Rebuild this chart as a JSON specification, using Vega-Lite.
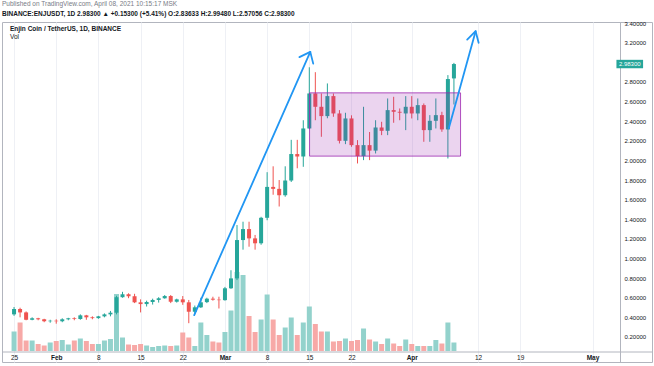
{
  "$schema": "https://vega.github.io/schema/vega-lite/v6.json",
  "width": 650,
  "height": 340,
  "autosize": {"type": "none"},
  "padding": {"left": 2, "top": 22, "right": 2, "bottom": 4},
  "background": "white",
  "config": {
    "view": {"stroke": "#b2b5be", "strokeWidth": 1},
    "font": "Liberation Sans",
    "axis": {"labelOverlap": false, "labelFlush": false},
    "axisY": {"offset": -32, "title": null, "format": ".5f", "tickSize": 0, "labelPadding": 4, "labelFontSize": 6, "labelOverlap": false, "labelBound": false, "labelColor": "#131722", "domainColor": "#b2b5be", "gridColor": "#eef0f5"}
  },
  "title": {
    "text": "Published on TradingView.com, April 08, 2021 10:15:17 MSK",
    "subtitle": "BINANCE:ENJUSDT, 1D 2.98300 ▲ +0.15300 (+5.41%) O:2.83633 H:2.99480 L:2.57056 C:2.98300",
    "anchor": "start", "frame": "group",
    "fontSize": 6.5, "fontWeight": "normal", "color": "#787b86",
    "subtitleFontSize": 6.5, "subtitleColor": "#131722", "subtitleFontWeight": "bold",
    "offset": 3, "subtitlePadding": 3
  },
  "datasets": {
    "candles": [
      {"date": "2021-01-25", "open": 0.43, "high": 0.505, "low": 0.415, "close": 0.485, "volume": 39},
      {"date": "2021-01-26", "open": 0.485, "high": 0.498, "low": 0.40, "close": 0.45, "volume": 57},
      {"date": "2021-01-27", "open": 0.45, "high": 0.46, "low": 0.37, "close": 0.375, "volume": 21},
      {"date": "2021-01-28", "open": 0.375, "high": 0.40, "low": 0.37, "close": 0.39, "volume": 21},
      {"date": "2021-01-29", "open": 0.39, "high": 0.395, "low": 0.37, "close": 0.38, "volume": 14},
      {"date": "2021-01-30", "open": 0.38, "high": 0.385, "low": 0.35, "close": 0.36, "volume": 11},
      {"date": "2021-01-31", "open": 0.36, "high": 0.375, "low": 0.345, "close": 0.365, "volume": 17},
      {"date": "2021-02-01", "open": 0.365, "high": 0.38, "low": 0.335, "close": 0.36, "volume": 20},
      {"date": "2021-02-02", "open": 0.36, "high": 0.39, "low": 0.35, "close": 0.38, "volume": 22},
      {"date": "2021-02-03", "open": 0.38, "high": 0.395, "low": 0.37, "close": 0.39, "volume": 13},
      {"date": "2021-02-04", "open": 0.39, "high": 0.40, "low": 0.37, "close": 0.383, "volume": 21},
      {"date": "2021-02-05", "open": 0.383, "high": 0.43, "low": 0.375, "close": 0.42, "volume": 25},
      {"date": "2021-02-06", "open": 0.42, "high": 0.425, "low": 0.375, "close": 0.40, "volume": 20},
      {"date": "2021-02-07", "open": 0.40, "high": 0.41, "low": 0.38, "close": 0.392, "volume": 14},
      {"date": "2021-02-08", "open": 0.392, "high": 0.415, "low": 0.385, "close": 0.41, "volume": 14},
      {"date": "2021-02-09", "open": 0.41, "high": 0.44, "low": 0.40, "close": 0.43, "volume": 21},
      {"date": "2021-02-10", "open": 0.43, "high": 0.465, "low": 0.41, "close": 0.447, "volume": 24},
      {"date": "2021-02-11", "open": 0.447, "high": 0.62, "low": 0.43, "close": 0.605, "volume": 114},
      {"date": "2021-02-12", "open": 0.605, "high": 0.66, "low": 0.60, "close": 0.635, "volume": 27},
      {"date": "2021-02-13", "open": 0.635, "high": 0.645, "low": 0.595, "close": 0.615, "volume": 13},
      {"date": "2021-02-14", "open": 0.615, "high": 0.64, "low": 0.545, "close": 0.553, "volume": 12},
      {"date": "2021-02-15", "open": 0.553, "high": 0.583, "low": 0.45, "close": 0.535, "volume": 14},
      {"date": "2021-02-16", "open": 0.535, "high": 0.57, "low": 0.51, "close": 0.556, "volume": 11},
      {"date": "2021-02-17", "open": 0.556, "high": 0.59, "low": 0.53, "close": 0.577, "volume": 8},
      {"date": "2021-02-18", "open": 0.577, "high": 0.605, "low": 0.55, "close": 0.594, "volume": 10},
      {"date": "2021-02-19", "open": 0.594, "high": 0.627, "low": 0.59, "close": 0.617, "volume": 11},
      {"date": "2021-02-20", "open": 0.617, "high": 0.627, "low": 0.545, "close": 0.559, "volume": 10},
      {"date": "2021-02-21", "open": 0.559, "high": 0.59, "low": 0.55, "close": 0.583, "volume": 11},
      {"date": "2021-02-22", "open": 0.583, "high": 0.617, "low": 0.527, "close": 0.553, "volume": 37},
      {"date": "2021-02-23", "open": 0.553, "high": 0.577, "low": 0.34, "close": 0.457, "volume": 27},
      {"date": "2021-02-24", "open": 0.457, "high": 0.52, "low": 0.43, "close": 0.502, "volume": 10},
      {"date": "2021-02-25", "open": 0.502, "high": 0.60, "low": 0.495, "close": 0.553, "volume": 57},
      {"date": "2021-02-26", "open": 0.555, "high": 0.60, "low": 0.545, "close": 0.59, "volume": 32},
      {"date": "2021-02-27", "open": 0.59, "high": 0.61, "low": 0.57, "close": 0.58, "volume": 19},
      {"date": "2021-02-28", "open": 0.58, "high": 0.61, "low": 0.49, "close": 0.575, "volume": 17},
      {"date": "2021-03-01", "open": 0.575, "high": 0.71, "low": 0.57, "close": 0.696, "volume": 38},
      {"date": "2021-03-02", "open": 0.696, "high": 0.88, "low": 0.69, "close": 0.797, "volume": 81},
      {"date": "2021-03-03", "open": 0.797, "high": 1.341, "low": 0.78, "close": 1.188, "volume": 158},
      {"date": "2021-03-04", "open": 1.188, "high": 1.375, "low": 1.09, "close": 1.30, "volume": 152},
      {"date": "2021-03-05", "open": 1.30, "high": 1.375, "low": 1.12, "close": 1.205, "volume": 70},
      {"date": "2021-03-06", "open": 1.205, "high": 1.24, "low": 1.09, "close": 1.155, "volume": 38},
      {"date": "2021-03-07", "open": 1.155, "high": 1.425, "low": 1.14, "close": 1.415, "volume": 63},
      {"date": "2021-03-08", "open": 1.415, "high": 1.88, "low": 1.39, "close": 1.73, "volume": 113},
      {"date": "2021-03-09", "open": 1.73, "high": 1.94, "low": 1.65, "close": 1.71, "volume": 63},
      {"date": "2021-03-10", "open": 1.71, "high": 1.80, "low": 1.53, "close": 1.645, "volume": 32},
      {"date": "2021-03-11", "open": 1.645, "high": 1.94, "low": 1.63, "close": 1.795, "volume": 47},
      {"date": "2021-03-12", "open": 1.795, "high": 2.21, "low": 1.78, "close": 2.065, "volume": 67},
      {"date": "2021-03-13", "open": 2.065, "high": 2.21, "low": 1.92, "close": 2.04, "volume": 32},
      {"date": "2021-03-14", "open": 2.04, "high": 2.41, "low": 1.935, "close": 2.326, "volume": 57},
      {"date": "2021-03-15", "open": 2.326, "high": 2.95, "low": 2.32, "close": 2.683, "volume": 89},
      {"date": "2021-03-16", "open": 2.683, "high": 2.90, "low": 2.41, "close": 2.547, "volume": 54},
      {"date": "2021-03-17", "open": 2.547, "high": 2.683, "low": 2.241, "close": 2.452, "volume": 39},
      {"date": "2021-03-18", "open": 2.452, "high": 2.785, "low": 2.43, "close": 2.656, "volume": 39},
      {"date": "2021-03-19", "open": 2.656, "high": 2.683, "low": 2.445, "close": 2.479, "volume": 19},
      {"date": "2021-03-20", "open": 2.479, "high": 2.513, "low": 2.173, "close": 2.20, "volume": 20},
      {"date": "2021-03-21", "open": 2.20, "high": 2.486, "low": 2.166, "close": 2.428, "volume": 25},
      {"date": "2021-03-22", "open": 2.428, "high": 2.46, "low": 2.139, "close": 2.156, "volume": 20},
      {"date": "2021-03-23", "open": 2.156, "high": 2.207, "low": 1.969, "close": 2.044, "volume": 22},
      {"date": "2021-03-24", "open": 2.044, "high": 2.547, "low": 2.003, "close": 2.156, "volume": 45},
      {"date": "2021-03-25", "open": 2.156, "high": 2.29, "low": 2.003, "close": 2.10, "volume": 23},
      {"date": "2021-03-26", "open": 2.10, "high": 2.41, "low": 2.071, "close": 2.336, "volume": 19},
      {"date": "2021-03-27", "open": 2.336, "high": 2.394, "low": 2.258, "close": 2.302, "volume": 14},
      {"date": "2021-03-28", "open": 2.302, "high": 2.632, "low": 2.258, "close": 2.513, "volume": 25},
      {"date": "2021-03-29", "open": 2.513, "high": 2.649, "low": 2.384, "close": 2.496, "volume": 15},
      {"date": "2021-03-30", "open": 2.496, "high": 2.53, "low": 2.41, "close": 2.487, "volume": 10},
      {"date": "2021-03-31", "open": 2.479, "high": 2.656, "low": 2.309, "close": 2.547, "volume": 23},
      {"date": "2021-04-01", "open": 2.547, "high": 2.656, "low": 2.428, "close": 2.479, "volume": 14},
      {"date": "2021-04-02", "open": 2.479, "high": 2.632, "low": 2.41, "close": 2.564, "volume": 10},
      {"date": "2021-04-03", "open": 2.564, "high": 2.581, "low": 2.19, "close": 2.309, "volume": 10},
      {"date": "2021-04-04", "open": 2.309, "high": 2.462, "low": 2.19, "close": 2.404, "volume": 10},
      {"date": "2021-04-05", "open": 2.404, "high": 2.632, "low": 2.326, "close": 2.462, "volume": 22},
      {"date": "2021-04-06", "open": 2.462, "high": 2.496, "low": 2.292, "close": 2.316, "volume": 15},
      {"date": "2021-04-07", "open": 2.316, "high": 2.87, "low": 2.02, "close": 2.83, "volume": 57},
      {"date": "2021-04-08", "open": 2.83633, "high": 2.9948, "low": 2.57056, "close": 2.983, "volume": 17}
    ],
    "box": [
      {"start": "2021-03-15T01:00:00Z", "end": "2021-04-09T02:24:00Z", "top": 2.689, "bottom": 2.044}
    ],
    "arrows": [
      {"segment": "a1-shaft", "seq": 0, "date": "2021-02-23T21:36:00Z", "price": 0.423},
      {"segment": "a1-shaft", "seq": 1, "date": "2021-03-15T03:50:00Z", "price": 3.107},
      {"segment": "a1-head", "seq": 0, "date": "2021-03-13T08:38:00Z", "price": 3.053},
      {"segment": "a1-head", "seq": 1, "date": "2021-03-15T03:50:00Z", "price": 3.107},
      {"segment": "a1-head", "seq": 2, "date": "2021-03-15T15:36:00Z", "price": 2.987},
      {"segment": "a2-shaft", "seq": 0, "date": "2021-04-07T03:36:00Z", "price": 2.327},
      {"segment": "a2-shaft", "seq": 1, "date": "2021-04-11T14:24:00Z", "price": 3.318},
      {"segment": "a2-head", "seq": 0, "date": "2021-04-10T04:48:00Z", "price": 3.233},
      {"segment": "a2-head", "seq": 1, "date": "2021-04-11T14:24:00Z", "price": 3.318},
      {"segment": "a2-head", "seq": 2, "date": "2021-04-12T02:24:00Z", "price": 3.200}
    ],
    "last": [{"price": 2.983}],
    "name": [{"label": "Enjin Coin / TetherUS, 1D, BINANCE"}],
    "vol": [{"label": "Vol"}]
  },
  "layer": [
    {
      "data": {"name": "candles"},
      "mark": {"type": "bar", "size": 5},
      "encoding": {
        "x": {
          "field": "date", "type": "temporal",
          "scale": {"type": "utc", "nice": false, "domain": [
            {"year": 2021, "month": 1, "date": 23, "hours": 19, "minutes": 55, "utc": true},
            {"year": 2021, "month": 5, "date": 10, "hours": 1, "utc": true}
          ]},
          "axis": {
            "orient": "bottom", "offset": -10.5, "title": null,
            "values": [
              {"year": 2021, "month": 1, "date": 25, "utc": true},
              {"year": 2021, "month": 2, "date": 1, "utc": true},
              {"year": 2021, "month": 2, "date": 8, "utc": true},
              {"year": 2021, "month": 2, "date": 15, "utc": true},
              {"year": 2021, "month": 2, "date": 22, "utc": true},
              {"year": 2021, "month": 3, "date": 1, "utc": true},
              {"year": 2021, "month": 3, "date": 8, "utc": true},
              {"year": 2021, "month": 3, "date": 15, "utc": true},
              {"year": 2021, "month": 3, "date": 22, "utc": true},
              {"year": 2021, "month": 4, "date": 1, "utc": true},
              {"year": 2021, "month": 4, "date": 12, "utc": true},
              {"year": 2021, "month": 4, "date": 19, "utc": true},
              {"year": 2021, "month": 5, "date": 1, "utc": true}
            ],
            "labelExpr": "utcdate(datum.value) == 1 ? utcFormat(datum.value, '%b') : '' + utcdate(datum.value)",
            "labelFontWeight": {"condition": {"test": "utcdate(datum.value) == 1", "value": "bold"}, "value": "normal"},
            "tickSize": 0, "labelPadding": 3, "labelFontSize": 6.5, "labelColor": "#131722",
            "labelFlush": false, "labelOverlap": false,
            "domainColor": "#b2b5be", "gridColor": "#eef0f5"
          }
        },
        "y": {"field": "volume", "type": "quantitative", "scale": {"domain": [-22, 658], "nice": false, "zero": false}, "axis": null},
        "color": {"condition": {"test": "datum.close >= datum.open", "value": "#93d2cc"}, "value": "#f7a9a7"}
      }
    },
    {
      "layer": [
        {
          "data": {"name": "candles"},
          "mark": {"type": "rule", "strokeWidth": 1},
          "encoding": {
            "x": {"field": "date", "type": "temporal"},
            "y": {
              "field": "low", "type": "quantitative",
              "scale": {"domain": [-0.0557, 3.4117], "nice": false, "zero": false},
              "axis": {"orient": "right", "values": [0.2, 0.4, 0.6, 0.8, 1.0, 1.2, 1.4, 1.6, 1.8, 2.0, 2.2, 2.4, 2.6, 2.8, 3.2, 3.4]}
            },
            "y2": {"field": "high"},
            "color": {"condition": {"test": "datum.close >= datum.open", "value": "#26a69a"}, "value": "#ef5350"}
          }
        },
        {
          "data": {"name": "candles"},
          "mark": {"type": "bar", "size": 4},
          "encoding": {
            "x": {"field": "date", "type": "temporal"},
            "y": {"field": "open", "type": "quantitative", "axis": {"orient": "right", "values": [0.2, 0.4, 0.6, 0.8, 1.0, 1.2, 1.4, 1.6, 1.8, 2.0, 2.2, 2.4, 2.6, 2.8, 3.2, 3.4]}},
            "y2": {"field": "close"},
            "color": {"condition": {"test": "datum.close >= datum.open", "value": "#26a69a"}, "value": "#ef5350"}
          }
        },
        {
          "data": {"name": "box"},
          "mark": {"type": "rect", "fill": "#9c27b0", "fillOpacity": 0.2, "stroke": "#9c27b0", "strokeWidth": 1, "strokeOpacity": 0.8},
          "encoding": {
            "x": {"field": "start", "type": "temporal"},
            "x2": {"field": "end"},
            "y": {"field": "top", "type": "quantitative", "axis": {"orient": "right", "values": [0.2, 0.4, 0.6, 0.8, 1.0, 1.2, 1.4, 1.6, 1.8, 2.0, 2.2, 2.4, 2.6, 2.8, 3.2, 3.4]}},
            "y2": {"field": "bottom"}
          }
        },
        {
          "data": {"name": "arrows"},
          "mark": {"type": "line", "color": "#2196f3", "strokeWidth": 1.8, "strokeCap": "round", "strokeJoin": "round"},
          "encoding": {
            "x": {"field": "date", "type": "temporal"},
            "y": {"field": "price", "type": "quantitative", "axis": {"orient": "right", "values": [0.2, 0.4, 0.6, 0.8, 1.0, 1.2, 1.4, 1.6, 1.8, 2.0, 2.2, 2.4, 2.6, 2.8, 3.2, 3.4]}},
            "detail": {"field": "segment"},
            "order": {"field": "seq"}
          }
        },
        {
          "data": {"name": "last"},
          "mark": {"type": "rect", "fill": "#26a69a"},
          "encoding": {
            "x": {"datum": {"year": 2021, "month": 5, "date": 4, "hours": 23, "minutes": 17, "utc": true}, "type": "temporal"},
            "x2": {"datum": {"year": 2021, "month": 5, "date": 9, "hours": 9, "minutes": 22, "utc": true}},
            "y": {"datum": 2.94, "type": "quantitative", "axis": {"orient": "right", "values": [0.2, 0.4, 0.6, 0.8, 1.0, 1.2, 1.4, 1.6, 1.8, 2.0, 2.2, 2.4, 2.6, 2.8, 3.2, 3.4]}},
            "y2": {"datum": 3.026}
          }
        },
        {
          "data": {"name": "last"},
          "mark": {"type": "text", "color": "white", "fontSize": 6, "align": "center", "baseline": "middle"},
          "encoding": {
            "x": {"datum": {"year": 2021, "month": 5, "date": 7, "hours": 4, "minutes": 19, "utc": true}, "type": "temporal"},
            "y": {"field": "price", "type": "quantitative", "axis": {"orient": "right", "values": [0.2, 0.4, 0.6, 0.8, 1.0, 1.2, 1.4, 1.6, 1.8, 2.0, 2.2, 2.4, 2.6, 2.8, 3.2, 3.4]}},
            "text": {"field": "price", "type": "quantitative", "format": ".5f"}
          }
        },
        {
          "data": {"name": "name"},
          "mark": {"type": "text", "color": "#131722", "fontSize": 6.5, "fontWeight": "bold", "align": "left", "baseline": "middle"},
          "encoding": {
            "x": {"datum": {"year": 2021, "month": 1, "date": 24, "hours": 7, "minutes": 40, "utc": true}, "type": "temporal"},
            "y": {"datum": 3.339, "type": "quantitative", "axis": {"orient": "right", "values": [0.2, 0.4, 0.6, 0.8, 1.0, 1.2, 1.4, 1.6, 1.8, 2.0, 2.2, 2.4, 2.6, 2.8, 3.2, 3.4]}},
            "text": {"field": "label"}
          }
        },
        {
          "data": {"name": "vol"},
          "mark": {"type": "text", "color": "#131722", "fontSize": 6.5, "align": "left", "baseline": "middle"},
          "encoding": {
            "x": {"datum": {"year": 2021, "month": 1, "date": 24, "hours": 7, "minutes": 40, "utc": true}, "type": "temporal"},
            "y": {"datum": 3.257, "type": "quantitative", "axis": {"orient": "right", "values": [0.2, 0.4, 0.6, 0.8, 1.0, 1.2, 1.4, 1.6, 1.8, 2.0, 2.2, 2.4, 2.6, 2.8, 3.2, 3.4]}},
            "text": {"field": "label"}
          }
        }
      ]
    }
  ],
  "resolve": {"scale": {"y": "independent"}}
}
